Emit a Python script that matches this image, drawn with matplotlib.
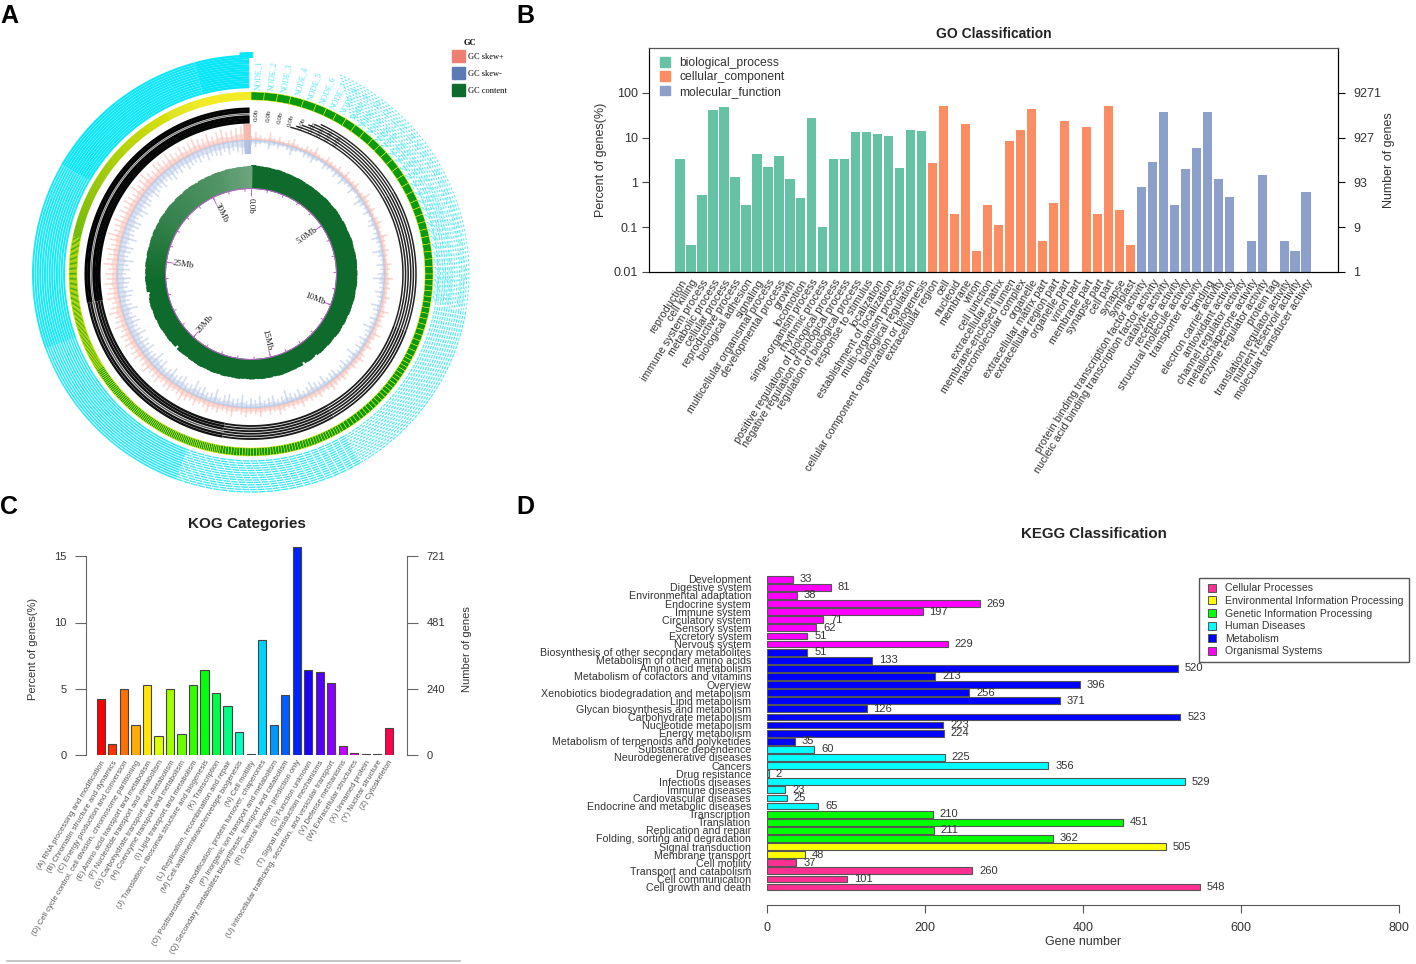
import numpy as np
import matplotlib
matplotlib.use("Agg")
import matplotlib.pyplot as plt
from matplotlib.patches import Patch
from matplotlib.lines import Line2D
from matplotlib.colors import to_rgb

plt.rcParams['font.family'] = ['Liberation Sans', 'DejaVu Sans']
W, H = 1416, 964
fig = plt.figure(figsize=(W / 100, H / 100), dpi=100, facecolor='white')


def axpx(l, t, r, b, **kw):
    return fig.add_axes([l / W, 1 - b / H, (r - l) / W, (b - t) / H], **kw)


# ------------------- data: panel A (read approximately from the circular map)
contig_run_widths = [4.2, 3.5, 3.0, 2.4, 1.8, 1.3, 0.9, 0.6, 0.4, 0.25, 0.1]
contig_run_counts = [5, 6, 8, 10, 15, 25, 45, 80, 110, 200, 280]
mb_labels = ['0.0b', '5.0Mb', '10Mb', '15Mb', '20Mb', '25Mb', '30Mb']
mb_positions = [0, 5, 10, 15, 20, 25, 30]
gc_top = [109.0, 108.4, 108.1, 107.8, 107.9, 107.5, 107.3, 107.6, 107.2, 106.8, 107.0, 106.6, 106.5, 106.8, 106.4, 106.0,
          106.2, 106.3, 106.0, 106.2, 105.9, 106.1, 106.5, 106.3, 106.0, 106.2, 106.6, 106.3, 106.2, 105.9, 106.5, 106.2,
          105.9, 106.1, 106.2, 106.6, 106.3, 106.0, 106.2, 106.5, 106.3, 106.6, 106.3, 106.0, 106.5, 106.2, 106.3, 106.5,
          106.2, 105.9, 106.2, 106.4, 106.1, 105.8, 106.0, 106.1, 105.4, 105.6, 105.9, 105.2, 105.5, 105.8, 105.5, 104.8,
          105.0, 105.3, 104.8, 104.9, 105.2, 104.9, 103.5, 104.4, 104.8, 104.5, 102.5, 105.0, 104.7, 105.0, 104.8, 105.1,
          105.2, 105.5, 105.2, 104.9, 105.5, 105.2, 105.6, 105.3, 105.0, 105.5, 105.2, 104.9, 105.2, 105.5, 105.2, 105.0,
          105.2, 105.6, 105.0, 105.3, 105.6, 105.3, 105.0, 105.2, 105.6, 105.3, 105.0, 105.2, 104.6, 105.0, 105.3, 105.5,
          102.5, 105.2, 105.0, 105.5, 105.2, 105.0, 105.2, 105.6, 105.3, 105.0, 105.6, 105.3, 105.0, 105.5, 105.3, 105.0,
          104.0, 103.0, 105.7, 105.4, 105.7, 106.0, 105.5, 105.8, 105.5, 106.1, 105.8, 105.5, 106.1, 105.8, 105.5, 105.8,
          106.1, 105.8, 106.4, 105.9, 106.2, 105.9, 106.5, 106.2, 105.9, 106.2, 106.5, 106.2, 105.9, 106.5, 106.2, 105.9,
          106.6, 106.3, 106.6, 106.3, 106.0, 106.7, 106.4, 106.7, 106.4, 106.8, 107.0, 106.7, 107.0, 107.4, 107.2, 107.2,
          107.6, 107.4, 107.8, 108.2]
skew_plus = [4, 8, 5, 3, 9, 4, 6, 3, 5, 8, 4, 3, 6, 5, 9, 4, 3, 7, 5, 4, 6, 3, 8, 4, 5, 7, 3, 4, 9, 5,
             4, 6, 3, 5, 7, 4, 3, 8, 5, 4, 6, 4, 3, 7, 5, 4, 8, 5, 6, 4, 7, 5, 4, 9, 6, 5, 7, 4, 10, 6,
             5, 8, 4, 6, 9, 5, 7, 4, 6, 8, 5, 7, 9, 6, 5, 8, 6, 7, 5, 9, 6, 8, 5, 7, 10, 6, 8, 5, 9, 7,
             6, 9, 7, 5, 10, 8, 6, 9, 7, 11, 8, 6, 10, 7, 9, 12, 8, 7, 10, 9, 7, 11, 9, 8, 12, 9, 7, 11, 10, 8,
             12, 9, 11, 8, 13, 10, 9, 14, 10, 8, 12, 11, 9, 13, 10, 12, 9, 14, 11, 10, 13, 9, 12, 15, 10, 11, 14, 9, 12, 10,
             13, 11, 9, 14, 10, 12, 15, 11, 9, 13, 12, 10, 14, 11, 9, 13, 10, 12, 14, 11, 10, 13, 9, 12, 14, 10, 11, 13, 14, 15]
skew_minus = [5, 7, 4, 3, 8, 4, 6, 3, 5, 9, 4, 3, 6, 5, 8, 4, 3, 7, 5, 4, 7, 4, 9, 5, 4, 8, 3, 5, 10, 6,
              4, 7, 3, 6, 8, 4, 5, 9, 5, 4, 11, 6, 4, 8, 5, 7, 12, 6, 5, 9, 6, 4, 10, 7, 5, 8, 6, 11, 7, 5,
              9, 6, 8, 5, 12, 7, 6, 10, 7, 5, 9, 8, 6, 11, 7, 9, 12, 8, 6, 10, 7, 9, 13, 8, 6, 11, 9, 7, 12, 8,
              10, 7, 13, 9, 8, 12, 10, 7, 14, 9, 8, 12, 10, 15, 9, 8, 13, 11, 9, 14, 10, 8, 13, 11, 16, 10, 9, 14, 11, 13,
              9, 15, 11, 10, 14, 12, 9, 16, 11, 10, 13, 15, 10, 12, 14, 9, 13, 11, 16, 10, 12, 14, 9, 15, 11, 10, 13, 14, 9, 12,
              15, 10, 13, 11, 9, 14, 12, 10, 13, 9, 11, 14, 10, 12, 9, 13, 11, 10, 12, 9, 13, 10, 11, 12, 9, 13, 10, 12, 14, 14]

# ------------------- data: panel B
go_bp_names = ['reproduction', 'cell killing', 'immune system process', 'metabolic process', 'cellular process',
               'reproductive process', 'biological adhesion', 'signaling', 'multicellular organismal process',
               'developmental process', 'growth', 'locomotion', 'single-organism process', 'rhythmic process',
               'positive regulation of biological process', 'negative regulation of biological process',
               'regulation of biological process', 'response to stimulus', 'localization',
               'establishment of localization', 'multi-organism process', 'biological regulation',
               'cellular component organization or biogenesis']
go_bp_values = [3.4, 0.04, 0.52, 41, 48, 1.35, 0.32, 4.2, 2.2, 3.9, 1.2, 0.45, 27, 0.1, 3.4, 3.4, 13.5, 13.3, 12, 11,
                2.1, 15, 14]
go_cc_names = ['extracellular region', 'cell', 'nucleoid', 'membrane', 'virion', 'cell junction',
               'extracellular matrix', 'membrane-enclosed lumen', 'macromolecular complex', 'organelle',
               'extracellular matrix part', 'extracellular region part', 'organelle part', 'virion part',
               'membrane part', 'synapse part', 'cell part', 'synapse', 'symplast']
go_cc_values = [2.7, 52, 0.2, 20, 0.03, 0.32, 0.11, 8.2, 15, 43, 0.05, 0.35, 24, np.nan, 17, 0.2, 52, 0.24, 0.04]
go_mf_names = ['protein binding transcription factor activity', 'nucleic acid binding transcription factor activity',
               'catalytic activity', 'receptor activity', 'structural molecule activity', 'transporter activity',
               'binding', 'electron carrier activity', 'antioxidant activity', 'channel regulator activity',
               'metallochaperone activity', 'enzyme regulator activity', 'protein tag',
               'translation regulator activity', 'nutrient reservoir activity', 'molecular transducer activity']
go_mf_values = [0.8, 2.8, 37, 0.31, 2.0, 6.0, 37, 1.2, 0.47, np.nan, 0.05, 1.5, np.nan, 0.05, 0.03, 0.62]
go_left_ticks = [0.01, 0.1, 1, 10, 100]
go_left_labels = ['0.01', '0.1', '1', '10', '100']
go_right_labels = ['1', '9', '93', '927', '9271']

# ------------------- data: panel C
kog_names = ['(A) RNA processing and modification', '(B) Chromatin structure and dynamics',
             '(C) Energy production and conversion', '(D) Cell cycle control, cell division, chromosome partitioning',
             '(E) Amino acid transport and metabolism', '(F) Nucleotide transport and metabolism',
             '(G) Carbohydrate transport and metabolism', '(H) Coenzyme transport and metabolism',
             '(I) Lipid transport and metabolism', '(J) Translation, ribosomal structure and biogenesis',
             '(K) Transcription', '(L) Replication, recombination and repair',
             '(M) Cell wall/membrane/envelope biogenesis', '(N) Cell motility',
             '(O) Posttranslational modification, protein turnover, chaperones',
             '(P) Inorganic ion transport and metabolism',
             '(Q) Secondary metabolites biosynthesis, transport and catabolism',
             '(R) General function prediction only', '(S) Function unknown', '(T) Signal transduction mechanisms',
             '(U) Intracellular trafficking, secretion, and vesicular transport', '(V) Defense mechanisms',
             '(W) Extracellular structures', '(X) Unnamed protein', '(Y) Nuclear structure', '(Z) Cytoskeleton']
kog_values = [4.2, 0.85, 5.0, 2.25, 5.3, 1.45, 5.0, 1.6, 5.3, 6.4, 4.7, 3.7, 1.75, 0.06, 8.65, 2.25, 4.5, 15.7, 6.45,
              6.3, 5.45, 0.7, 0.12, 0.04, 0.1, 2.05]
kog_left_ticks = [0, 5, 10, 15]
kog_right_labels = ['0', '240', '481', '721']

# ------------------- data: panel D
kegg_names = ['Development', 'Digestive system', 'Environmental adaptation', 'Endocrine system', 'Immune system',
              'Circulatory system', 'Sensory system', 'Excretory system', 'Nervous system',
              'Biosynthesis of other secondary metabolites', 'Metabolism of other amino acids',
              'Amino acid metabolism', 'Metabolism of cofactors and vitamins', 'Overview',
              'Xenobiotics biodegradation and metabolism', 'Lipid metabolism', 'Glycan biosynthesis and metabolism',
              'Carbohydrate metabolism', 'Nucleotide metabolism', 'Energy metabolism',
              'Metabolism of terpenoids and polyketides', 'Substance dependence', 'Neurodegenerative diseases',
              'Cancers', 'Drug resistance', 'Infectious diseases', 'Immune diseases', 'Cardiovascular diseases',
              'Endocrine and metabolic diseases', 'Transcription', 'Translation', 'Replication and repair',
              'Folding, sorting and degradation', 'Signal transduction', 'Membrane transport', 'Cell motility',
              'Transport and catabolism', 'Cell communication', 'Cell growth and death']
kegg_values = [33, 81, 38, 269, 197, 71, 62, 51, 229, 51, 133, 520, 213, 396, 256, 371, 126, 523, 223, 224, 35, 60,
               225, 356, 2, 529, 23, 25, 65, 210, 451, 211, 362, 505, 48, 37, 260, 101, 548]
kegg_classes = ['Cellular Processes', 'Environmental Information Processing', 'Genetic Information Processing',
                'Human Diseases', 'Metabolism', 'Organismal Systems']
kegg_class_counts = [4, 2, 4, 8, 12, 9]  # from the bottom of the chart upwards
kegg_class_colors = ['#FF3092', '#FFFF00', '#00FF00', '#00FFFF', '#0000FF', '#FF00FF']

TXT = '#333333'

# ===================================================== Panel A
axa = fig.add_axes([29 / W, 1 - 496 / H, 444 / W, 444 / H], projection='polar')
axa.set_theta_zero_location('N')
axa.set_theta_direction(-1)
axa.set_ylim(0, 222)
axa.axis('off')
SERIF = ['Liberation Serif', 'DejaVu Serif']
d2r = np.pi / 180


def arc(t0, t1, r, **kw):
    t = np.linspace(t0, t1, 200) * d2r
    axa.plot(t, np.full_like(t, r), solid_capstyle='butt', dash_capstyle='butt', **kw)


# contig ring: wide contigs show as green cells with yellow borders, tiny ones blend to lime and yellow
widths = np.repeat(contig_run_widths, contig_run_counts)
widths = widths * 360 / widths.sum()
starts = np.concatenate([[0], np.cumsum(widths)[:-1]])
wide = widths >= 0.3
axa.bar(starts[wide] * d2r, 8, width=widths[wide] * d2r, bottom=174, align='edge', color='#0A9A10',
        edgecolor='#F2F000', lw=0.35)
lime, yellow = np.array(to_rgb('#6FB800')), np.array(to_rgb('#F2EA00'))
mix = np.interp(starts[~wide], [starts[~wide][0], 345], [0, 1])
axa.bar(starts[~wide] * d2r, 8, width=widths[~wide] * d2r * 1.5, bottom=174, align='edge', lw=0,
        color=[tuple(lime * (1 - m) + yellow * m) for m in mix])

# outer cyan tracks
tracks = np.linspace(187, 218, 14)
for k, r in enumerate(tracks):
    arc(24 + (13 - k) * 0.6, 100, r, color='#55ECF5', lw=0.7, ls=(0, (2.5, 2)))
    arc(100, 150, r, color='#48EBF4', lw=0.8, ls=(0, (3, 1)))
    arc(150, 200, r, color='#3AE9F5', lw=0.95, ls=(0, (5, 0.8)))
    arc(200, 250, r, color='#2BE8F6', lw=1.15)
    arc(250, 300, r, color='#1CE7F7', lw=1.4)
    arc(300, 345, r, color='#0EE6F9', lw=1.6)
    arc(345, 359.5, r, color='#08E6FA', lw=1.8)
axa.bar(357 * d2r, 6, width=3.5 * d2r, bottom=216, align='edge', color='#08E6FA', lw=0)
centers = starts + widths / 2
for n in range(34):
    th = centers[n]
    axa.text(th * d2r, 199, f'NODE_{n + 1}', rotation=90 - th, rotation_mode='anchor', ha='center', va='center',
             family=SERIF, fontsize=5.6, color='#55E9F2')

# black contig scaffolds
for k, r in enumerate(np.linspace(152, 165, 6)):
    arc(15 + k * 2, 60, r, color='#222222', lw=1.0)
    arc(60, 110, r, color='#222222', lw=1.1)
    arc(110, 150, r, color='#1a1a1a', lw=1.2)
    arc(150, 190, r, color='#1a1a1a', lw=1.35)
    arc(190, 260, r, color='#111111' if k != 3 else '#555555', lw=1.7 if k != 3 else 1.0)
    arc(260, 359.5, r, color='#050505' if k != 3 else '#777777', lw=2.2 if k != 3 else 0.9)
for n in range(9):
    th = centers[n]
    axa.text(th * d2r, 159, '0.0b', rotation=90 - th, rotation_mode='anchor', ha='center', va='center',
             family=SERIF, fontsize=5.2, color='#222222')

# GC skew: dense near the baseline, thin wisps at the tips
skew_t = np.concatenate([np.arange(180) * 2, [360]]) * d2r
sp = np.array(skew_plus + skew_plus[:1], dtype=float)
sm = np.array(skew_minus + skew_minus[:1], dtype=float)
axa.fill_between(skew_t, 134, 134 + sp * 0.5, color='#FBD3CD', lw=0, alpha=0.75)
axa.fill_between(skew_t, 134 - sm * 0.5, 134, color='#CFDAEE', lw=0, alpha=0.75)
axa.vlines(skew_t, 134, 134 + sp, color='#F7BDB5', lw=1.2, alpha=0.6)
axa.vlines(skew_t, 134 - sm, 134, color='#B7C7E6', lw=1.2, alpha=0.6)
axa.bar(0, 1.2, width=2 * np.pi, bottom=134, color='#F8C4BD', lw=0)
axa.bar(0, 1.2, width=2 * np.pi, bottom=132.8, color='#BCCCE8', lw=0)
axa.bar(357 * d2r, 16, width=3 * d2r, bottom=134, align='edge', color='#F5B6AE', lw=0)
axa.bar(357 * d2r, 14, width=3 * d2r, bottom=120, align='edge', color='#AEC0E0', lw=0)

# GC content
gc_t = np.arange(180) * 2
gc_alpha = np.interp(gc_t, [0, 265, 300, 340, 360], [1, 1, 0.85, 0.72, 0.6])
gc_rgb = np.array(to_rgb('#0F6B2B'))
gc_cols = [tuple(a * gc_rgb + (1 - a)) for a in gc_alpha]
axa.bar(gc_t * d2r, np.array(gc_top) - 85, width=2.8 * d2r, bottom=85, align='edge', color=gc_cols, lw=0)

# inner scale
arc(0, 360, 85.5, color='#C060D0', lw=0.7)
deg_per_mb = 11.12
for mb in range(33):
    axa.vlines(mb * deg_per_mb * d2r, 82.5, 85.5, color='#C060D0', lw=0.7)
for lab, mb in zip(mb_labels, mb_positions):
    th = mb * deg_per_mb
    axa.vlines(th * d2r, 78, 85.5, color='#C060D0', lw=0.7)
    rot = -90 if th == 0 else (90 - th if th < 180 else 270 - th)
    axa.text(th * d2r, 68, lab, rotation=rot, rotation_mode='anchor', ha='center', va='center',
             family=SERIF, fontsize=6.5, color='#222222')

fig.text(470 / W, 1 - 43 / H, 'GC', family=SERIF, fontsize=6, fontweight='bold', ha='center', va='center')
fig.legend(handles=[Patch(color='#EE7F72', label='GC skew+'), Patch(color='#5B7BB5', label='GC skew-'),
                    Patch(color='#0F6B2B', label='GC content')],
           loc='upper left', bbox_to_anchor=(452 / W, 1 - 50 / H), frameon=False, borderaxespad=0, borderpad=0,
           prop={'family': SERIF, 'size': 6}, handlelength=1.5, handleheight=1.9, handletextpad=0.4, labelspacing=0.55)

# ===================================================== Panel B
axb = axpx(649, 48, 1338, 272)
go_values = go_bp_values + go_cc_values + go_mf_values
go_names = go_bp_names + go_cc_names + go_mf_names
go_colors = ['#66C2A5'] * len(go_bp_values) + ['#FC8D62'] * len(go_cc_values) + ['#8DA0CB'] * len(go_mf_values)
gx = np.arange(len(go_values))
axb.set_yscale('log')
axb.bar(gx, np.array(go_values) - 0.01, bottom=0.01, width=0.85, color=go_colors, lw=0)
axb.set_xlim(-2.82, 59.9)
axb.set_ylim(0.01, 1000)
axb.set_yticks(go_left_ticks, go_left_labels, fontsize=9, color=TXT)
axb.minorticks_off()
axb.set_xticks(gx, go_names, rotation=58, ha='right', rotation_mode='anchor', fontsize=7.8, color=TXT)
axb.tick_params(axis='x', length=0, pad=4)
axb.tick_params(axis='y', length=5, color='#444444', pad=3)
for s in ['left', 'top']:
    axb.spines[s].set_color('#555555')
axb.set_ylabel('Percent of genes(%)', fontsize=9, color=TXT, labelpad=5)
axb.set_title('GO Classification', fontsize=10, fontweight='bold', color='#222222', pad=7)
axb2 = axb.twinx()
axb2.set_yscale('log')
axb2.set_ylim(0.01, 1000)
axb2.set_yticks(go_left_ticks, go_right_labels, fontsize=9, color=TXT)
axb2.minorticks_off()
axb2.tick_params(axis='y', length=5, pad=6)
axb2.spines['top'].set_color('#555555')
axb2.set_ylabel('Number of genes', fontsize=9, color=TXT, labelpad=1)
axb.legend(handles=[Patch(color='#66C2A5', label='biological_process'), Patch(color='#FC8D62', label='cellular_component'),
                    Patch(color='#8DA0CB', label='molecular_function')],
           loc='upper left', bbox_to_anchor=(660 / W, 1 - 57 / H), bbox_transform=fig.transFigure, frameon=False,
           borderaxespad=0, borderpad=0, fontsize=8.7, labelcolor=TXT, handlelength=0.85, handleheight=0.85,
           handletextpad=0.75, labelspacing=0.2)

# ===================================================== Panel C
axc = axpx(86, 543, 407, 755)
cx = np.arange(len(kog_values))
kog_colors = plt.cm.hsv(np.arange(len(kog_values)) / len(kog_values))
axc.bar(cx, kog_values, width=0.7, color=kog_colors, edgecolor='#444444', lw=0.8)
axc.set_xlim(-1.30, 26.6)
axc.set_ylim(0, 16)
axc.set_yticks(kog_left_ticks, [str(v) for v in kog_left_ticks], fontsize=8, color=TXT)
axc.set_xticks(cx, kog_names, rotation=59, ha='right', rotation_mode='anchor', fontsize=5.5, color='#555555')
axc.tick_params(axis='x', length=0, pad=3)
axc.tick_params(axis='y', length=8, color='#666666', pad=6)
for s in ['top', 'bottom', 'right']:
    axc.spines[s].set_visible(False)
axc.spines['left'].set_bounds(0, 15)
axc.spines['left'].set_color('#666666')
axc.set_ylabel('Percent of genes(%)', fontsize=8, color=TXT, labelpad=12, y=0.5)
axc.set_title('KOG Categories', fontsize=11, fontweight='bold', color='#222222', x=0.5, pad=11)
axc2 = axc.twinx()
axc2.set_ylim(0, 16)
axc2.set_yticks(kog_left_ticks, kog_right_labels, fontsize=8, color=TXT)
axc2.tick_params(axis='y', length=8, color='#666666', pad=6)
for s in ['top', 'bottom', 'left']:
    axc2.spines[s].set_visible(False)
axc2.spines['right'].set_bounds(0, 15)
axc2.spines['right'].set_color('#666666')
axc2.set_ylabel('Number of genes', fontsize=8, color=TXT, labelpad=12)
fig.add_artist(Line2D([7 / W, 460 / W], [1 - 961 / H] * 2, color='#BBBBBB', lw=1.2))

# ===================================================== Panel D
axd = axpx(767, 570, 1399, 905)
n = len(kegg_values)
dy = np.arange(n)[::-1]
col = np.repeat(kegg_class_colors, kegg_class_counts)[::-1]
bars = axd.barh(dy, kegg_values, height=0.84, color=col, edgecolor='#555555', lw=0.8)
axd.bar_label(bars, padding=5, fontsize=8, color=TXT)
axd.set_xlim(0, 800)
axd.set_ylim(-2.22, 39.14)
axd.set_yticks(dy, kegg_names, fontsize=7.7, color=TXT)
axd.tick_params(axis='y', length=0, pad=11.5)
axd.set_xticks([0, 200, 400, 600, 800])
axd.tick_params(axis='x', length=6, color='#555555', labelsize=9, labelcolor=TXT, pad=6)
for s in ['top', 'left', 'right']:
    axd.spines[s].set_visible(False)
axd.spines['bottom'].set_color('#555555')
axd.set_xlabel('Gene number', fontsize=9, color=TXT, labelpad=2)
axd.set_title('KEGG Classification', fontsize=10.8, fontweight='bold', color='#222222', x=0.517, pad=23)
axd.legend(handles=[Line2D([], [], marker='s', ls='', ms=6, mfc=c, mec='#555555', mew=0.7, label=l)
                    for c, l in zip(kegg_class_colors, kegg_classes)],
           loc='upper left', bbox_to_anchor=(1199 / W, 1 - 578 / H), bbox_transform=fig.transFigure, frameon=True,
           fancybox=False, edgecolor='#555555', framealpha=1, borderaxespad=0, fontsize=7.6, labelcolor=TXT,
           handlelength=1.5, handletextpad=0.5, labelspacing=0.25, borderpad=0.5)

# panel letters
for s, x, y in [('A', 0, 16), ('B', 516, 16), ('C', 0, 507), ('D', 516, 507)]:
    fig.text(x / W, 1 - y / H, s, fontsize=18, fontweight='bold', color='black', ha='left', va='center')

fig.savefig('out.png', dpi=100)
